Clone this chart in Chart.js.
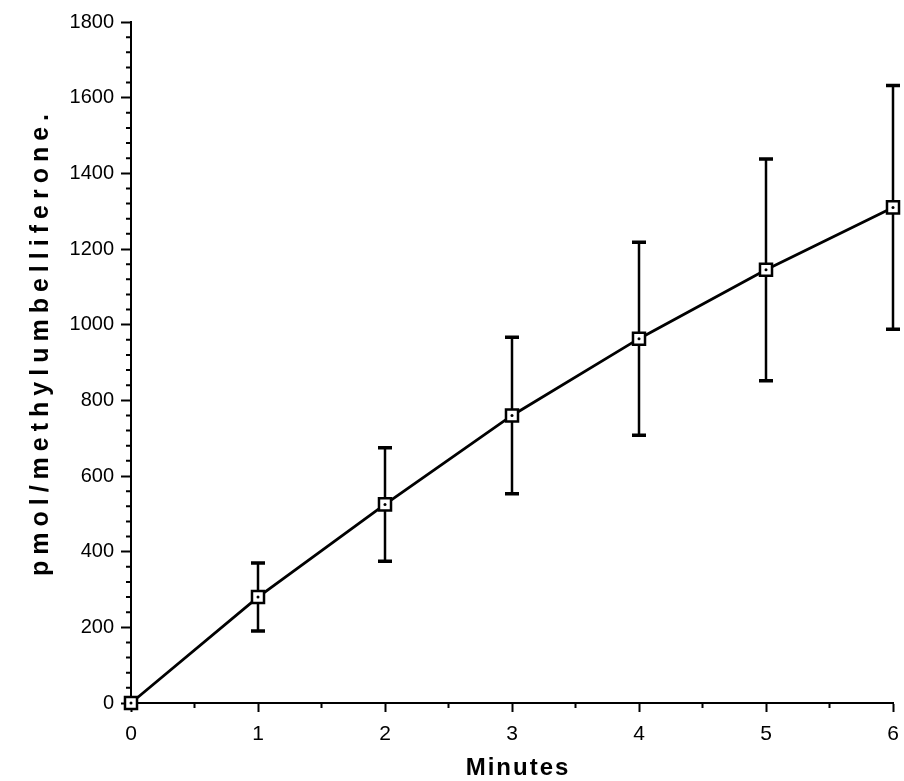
<!DOCTYPE html>
<html><head><meta charset="utf-8">
<script src="https://cdn.jsdelivr.net/npm/chart.js@4.4.0/dist/chart.umd.min.js"></script>
<style>html,body{margin:0;padding:0;background:#fff}#wrap{width:904px;height:781px;position:relative}</style>
</head><body><div id="wrap"><canvas id="c" width="904" height="781"></canvas></div>
<script>
// ---- data ----
const minutes = [0, 1, 2, 3, 4, 5, 6];
const pmol = [0, 280, 525, 760, 963, 1145, 1310];
const errBar = [0, 90, 150, 207, 255, 293, 322];
const yTickValues = [0, 200, 400, 600, 800, 1000, 1200, 1400, 1600, 1800];
const xTickValues = [0, 1, 2, 3, 4, 5, 6];
const xMinorStep = 0.5;
const yMinorStep = 40;
const xTitle = 'Minutes';
const yTitle = 'pmol/methylumbelliferone.';

const points = minutes.map((m, i) => ({x: m, y: pmol[i]}));

const errorBars = {
  id: 'errorBars',
  beforeDatasetsDraw(chart) {
    const {ctx, scales: {x, y}} = chart;
    ctx.save();
    ctx.strokeStyle = '#000';
    minutes.forEach((m, i) => {
      if (!errBar[i]) return;
      const px = x.getPixelForValue(m);
      const top = y.getPixelForValue(pmol[i] + errBar[i]);
      const bot = y.getPixelForValue(pmol[i] - errBar[i]);
      ctx.lineWidth = 2.5;
      ctx.beginPath(); ctx.moveTo(px, top); ctx.lineTo(px, bot); ctx.stroke();
      ctx.lineWidth = 3.5;
      ctx.beginPath();
      ctx.moveTo(px - 7, top); ctx.lineTo(px + 7, top);
      ctx.moveTo(px - 7, bot); ctx.lineTo(px + 7, bot);
      ctx.stroke();
    });
    ctx.restore();
  }
};

const minorTicksAndTitles = {
  id: 'minorTicksAndTitles',
  afterDraw(chart) {
    const {ctx, scales: {x, y}, chartArea} = chart;
    ctx.save();
    ctx.strokeStyle = '#000';
    ctx.lineWidth = 2;
    ctx.beginPath();
    for (let v = 0; v <= y.max + 1e-6; v += yMinorStep) {
      if (v % 200 === 0) continue;
      const py = y.getPixelForValue(v);
      ctx.moveTo(chartArea.left, py); ctx.lineTo(chartArea.left - 5, py);
    }
    for (let v = 0; v <= x.max + 1e-6; v += xMinorStep) {
      if (Math.abs(v - Math.round(v)) < 1e-6) continue;
      const px = x.getPixelForValue(v);
      ctx.moveTo(px, chartArea.bottom); ctx.lineTo(px, chartArea.bottom + 5);
    }
    ctx.stroke();

    ctx.fillStyle = '#000';
    ctx.textAlign = 'center';
    ctx.textBaseline = 'middle';
    // x title
    ctx.font = 'bold 24px "Liberation Sans", Arial, sans-serif';
    ctx.letterSpacing = '2px';
    ctx.fillText(xTitle, (chartArea.left + chartArea.right) / 2 + 6, 768);
    // y title
    ctx.save();
    ctx.translate(41, 342);
    ctx.rotate(-Math.PI / 2);
    ctx.font = 'bold 25px "Liberation Sans", Arial, sans-serif';
    ctx.letterSpacing = '6px';
    ctx.fillText(yTitle, 0, 0);
    ctx.restore();
    ctx.restore();
  }
};

new Chart(document.getElementById('c'), {
  type: 'scatter',
  data: {
    datasets: [
      {
        data: points,
        showLine: true,
        borderColor: '#000',
        borderWidth: 2.8,
        pointStyle: 'rect',
        pointRadius: 8.5,
        pointBackgroundColor: '#fff',
        pointBorderColor: '#000',
        pointBorderWidth: 2.5,
        clip: false,
        order: 2
      },
      {
        data: points,
        showLine: false,
        pointStyle: 'circle',
        pointRadius: 1.5,
        pointBackgroundColor: '#000',
        pointBorderColor: '#000',
        pointBorderWidth: 0,
        clip: false,
        order: 1
      }
    ]
  },
  options: {
    responsive: false,
    animation: false,
    devicePixelRatio: 1,
    layout: {padding: {top: 22, right: -4, left: 0, bottom: 0}},
    plugins: {legend: {display: false}, tooltip: {enabled: false}},
    scales: {
      x: {
        type: 'linear', min: 0, max: 6,
        afterBuildTicks: s => { s.ticks = xTickValues.map(v => ({value: v})); },
        afterFit: s => { s.height = 78; s.paddingLeft = 0; s.paddingRight = 0; },
        ticks: {
          color: '#000', padding: 10, maxRotation: 0, autoSkip: false,
          callback: v => String(v),
          font: {family: '"Liberation Sans Narrow", "Liberation Sans", Arial, sans-serif', size: 21}
        },
        grid: {drawOnChartArea: false, drawTicks: true, tickLength: 9, tickWidth: 2, tickColor: '#000'},
        border: {display: true, color: '#000', width: 2}
      },
      y: {
        type: 'linear', min: 0, max: 1800,
        afterBuildTicks: s => { s.ticks = yTickValues.map(v => ({value: v})); },
        afterFit: s => { s.width = 131; s.paddingTop = 0; s.paddingBottom = 0; },
        ticks: {
          color: '#000', padding: 7, autoSkip: false,
          callback: v => String(v),
          font: {family: '"Liberation Sans", Arial, sans-serif', size: 20}
        },
        grid: {drawOnChartArea: false, drawTicks: true, tickLength: 10, tickWidth: 2, tickColor: '#000'},
        border: {display: true, color: '#000', width: 2}
      }
    }
  },
  plugins: [errorBars, minorTicksAndTitles]
});
</script>
</body></html>
